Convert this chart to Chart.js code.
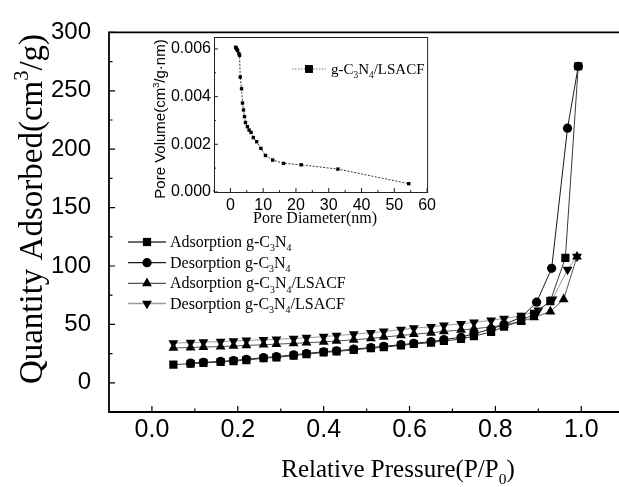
<!DOCTYPE html>
<html>
<head>
<meta charset="utf-8">
<script src="https://cdn.jsdelivr.net/npm/chart.js@4.4.1/dist/chart.umd.min.js"></script>
<style>
  html, body { margin: 0; padding: 0; background: #fff; overflow: hidden; }
  #wrap { position: relative; width: 619px; height: 487px; overflow: hidden; }
  #main { position: absolute; left: 0; top: 0; }
  #inset { position: absolute; left: 140px; top: 0; }
</style>
</head>
<body>
<div id="wrap">
  <canvas id="main" width="630" height="487"></canvas>
  <canvas id="inset" width="300" height="230"></canvas>
</div>
<script>
// isotherm data (P/P0, cm3/g)
const pAdsC = [0.05,0.09,0.12,0.16,0.19,0.22,0.26,0.29,0.33,0.36,0.40,0.43,0.47,0.51,0.54,0.58,0.61,0.65,0.68,0.72,0.75,0.79,0.82,0.86,0.89,0.928,0.963,0.993]
const qAdsC = [15.5,16.3,17.0,17.8,18.5,19.5,21.0,21.8,23.3,24.5,26.0,26.8,28.2,29.6,30.5,32.0,33.2,34.4,35.8,37.5,40.0,43.5,48.0,53.0,59.0,70.0,107,271]

const pDesC = [0.993,0.968,0.931,0.896,0.86,0.82,0.79,0.75,0.72,0.68,0.65,0.61,0.58,0.54,0.51,0.47,0.43,0.40,0.36,0.33,0.29,0.26,0.22,0.19,0.16,0.12,0.09]
const qDesC = [271,218,98,69,56,50,46,42,39,37,35.2,33.8,32.6,31.2,30.2,28.8,27.4,26.6,25.1,23.9,22.4,21.5,20.1,19.1,18.3,17.5,16.8]

const pAdsL = [0.05,0.09,0.12,0.16,0.19,0.22,0.26,0.29,0.33,0.36,0.40,0.43,0.47,0.51,0.54,0.58,0.61,0.65,0.68,0.72,0.75,0.79,0.82,0.86,0.89,0.928,0.959,0.99]
const qAdsL = [29.8,30.2,30.6,31.0,31.5,32.0,32.6,33.1,33.7,34.3,35.0,35.8,36.8,38.0,39.2,40.5,41.6,42.8,44.0,45.2,46.3,47.8,49.5,52.5,56,61,71.5,108]

const pDesL = [0.99,0.968,0.933,0.90,0.86,0.82,0.79,0.75,0.72,0.68,0.65,0.61,0.58,0.54,0.51,0.47,0.43,0.40,0.36,0.33,0.29,0.26,0.22,0.19,0.16,0.12,0.09,0.05]
const qDesL = [108,97,71.5,62,57.5,55,53.5,51.8,50.5,49.2,48.0,46.8,45.5,44.0,42.8,41.6,40.5,39.5,38.6,37.9,37.3,36.8,36.3,35.8,35.3,34.8,34.4,34.0]

// inset: pore size distribution (nm, cm3/g.nm)
const poreD = [1.6,1.8,2.0,2.2,2.6,2.8,3.0,3.4,3.7,4.0,4.3,4.6,5.2,5.7,6.3,7.0,8.0,9.3,10.7,12.9,16.2,21.6,32.8,54.4]
const poreV = [0.00607,0.00603,0.00598,0.00593,0.00580,0.00573,0.00482,0.00433,0.00373,0.00344,0.00316,0.00291,0.00274,0.00260,0.00250,0.00228,0.00211,0.00183,0.00153,0.00134,0.00120,0.00114,0.00096,0.00035]

const xTicks = [0, 0.2, 0.4, 0.6, 0.8, 1.0]
const xMinor = [0.1, 0.3, 0.5, 0.7, 0.9]
const yTicks = [0, 50, 100, 150, 200, 250, 300]
const yMinor = [25, 75, 125, 175, 225, 275]
const insetXTicks = [0, 10, 20, 30, 40, 50, 60]
const insetXMinor = [-5, 5, 15, 25, 35, 45, 55]
const insetYTicks = [0, 0.002, 0.004, 0.006]
const insetYMinor = [0.001, 0.003, 0.005]

const SANS = "'Liberation Sans', Arial, sans-serif"
const SERIF = "'Liberation Serif', 'Times New Roman', serif"

function pts(xs, ys){
    return xs.map((x, i) => ({x, y: ys[i]}))
}

// text with sub/superscript pieces: [[text, 'sub'|'sup'|undefined], ...]
function richWidth(ctx, parts, size, family){
    let w = 0
    parts.forEach(([t, mode]) => {
        ctx.font = `${mode ? size * 0.62 : size}px ${family}`
        w += ctx.measureText(t).width
    })
    return w
}

function richText(ctx, parts, x, y, size, family, align){
    let cx = align === 'center' ? x - richWidth(ctx, parts, size, family) / 2 : x
    ctx.textBaseline = 'alphabetic'
    ctx.textAlign = 'left'
    parts.forEach(([t, mode]) => {
        ctx.font = `${mode ? size * 0.62 : size}px ${family}`
        let dy = mode === 'sub' ? size * 0.28 : mode === 'sup' ? -size * 0.42 : 0
        ctx.fillText(t, cx, y + dy)
        cx += ctx.measureText(t).width
    })
}

function marker(ctx, style, x, y, r){
    ctx.beginPath()
    if(style === 'rect'){
        const s = r * Math.SQRT1_2
        ctx.rect(x - s, y - s, 2 * s, 2 * s)
    } else if(style === 'circle'){
        ctx.arc(x, y, r, 0, Math.PI * 2)
    } else if(style === 'triangle'){
        ctx.moveTo(x, y - r)
        ctx.lineTo(x + r * 0.866, y + r * 0.5)
        ctx.lineTo(x - r * 0.866, y + r * 0.5)
        ctx.closePath()
    } else {
        ctx.moveTo(x, y + r)
        ctx.lineTo(x + r * 0.866, y - r * 0.5)
        ctx.lineTo(x - r * 0.866, y - r * 0.5)
        ctx.closePath()
    }
    ctx.fill()
}

function inwardTicks(chart, values, len, axis){
    const {ctx, chartArea} = chart
    const scale = chart.scales[axis]
    ctx.beginPath()
    values.forEach(v => {
        const p = scale.getPixelForValue(v)
        if(axis === 'x'){
            ctx.moveTo(p, chartArea.bottom)
            ctx.lineTo(p, chartArea.bottom - len)
        } else {
            ctx.moveTo(chartArea.left, p)
            ctx.lineTo(chartArea.left + len, p)
        }
    })
    ctx.stroke()
}

const mainSeries = [
    {label: [['Adsorption g-C'], ['3', 'sub'], ['N'], ['4', 'sub']], p: pAdsC, q: qAdsC, style: 'rect', r: 5.8, line: '#3a3a3a'},
    {label: [['Desorption g-C'], ['3', 'sub'], ['N'], ['4', 'sub']], p: pDesC, q: qDesC, style: 'circle', r: 4.6, line: '#1a1a1a'},
    {label: [['Adsorption g-C'], ['3', 'sub'], ['N'], ['4', 'sub'], ['/LSACF']], p: pAdsL, q: qAdsL, style: 'triangle', r: 5.7, line: '#555'},
    {label: [['Desorption g-C'], ['3', 'sub'], ['N'], ['4', 'sub'], ['/LSACF']], p: pDesL, q: qDesL, style: 'triangleDown', r: 5.7, line: '#9a9a9a'},
]

const mainDecor = {
    id: 'mainDecor',
    afterDraw(chart){
        const {ctx, chartArea} = chart
        ctx.save()
        ctx.strokeStyle = '#000'
        ctx.fillStyle = '#000'
        ctx.lineWidth = 1.8
        ctx.beginPath()
        ctx.moveTo(chartArea.right, chartArea.top)
        ctx.lineTo(chartArea.left, chartArea.top)
        ctx.lineTo(chartArea.left, chartArea.bottom)
        ctx.lineTo(chartArea.right, chartArea.bottom)
        ctx.stroke()
        ctx.lineWidth = 1.2
        inwardTicks(chart, xTicks, 6, 'x')
        inwardTicks(chart, xMinor, 3.5, 'x')
        inwardTicks(chart, yTicks, 6, 'y')
        inwardTicks(chart, yMinor, 3.5, 'y')

        // axis titles
        richText(ctx, [['Relative Pressure(P/P'], ['0', 'sub'], [')']], 398, 477, 25, SERIF, 'center')
        ctx.save()
        ctx.translate(42, 209)
        ctx.rotate(-Math.PI / 2)
        richText(ctx, [['Quantity Adsorbed(cm'], ['3', 'sup'], ['/g)']], 0, 0, 33, SERIF, 'center')
        ctx.restore()

        // legend
        const rows = [242, 262.7, 283.3, 303.5]
        mainSeries.forEach((s, i) => {
            const y = rows[i]
            ctx.strokeStyle = s.line
            ctx.lineWidth = 1.3
            ctx.beginPath()
            ctx.moveTo(128, y)
            ctx.lineTo(166, y)
            ctx.stroke()
            ctx.fillStyle = '#000'
            marker(ctx, s.style, 147, y, s.r)
            richText(ctx, s.label, 170, y + 5, 16, SERIF)
        })
        ctx.restore()
    }
}

new Chart(document.getElementById('main'), {
    type: 'scatter',
    data: {
        datasets: mainSeries.map(s => ({
            data: pts(s.p, s.q),
            showLine: true,
            borderColor: s.line,
            borderWidth: 1,
            backgroundColor: '#000',
            pointBackgroundColor: '#000',
            pointBorderColor: '#000',
            pointBorderWidth: 0,
            pointStyle: s.style === 'triangleDown' ? 'triangle' : s.style,
            rotation: s.style === 'triangleDown' ? 180 : 0,
            pointRadius: s.r,
            tension: 0
        }))
    },
    options: {
        responsive: false,
        animation: false,
        layout: {padding: {top: 27, right: 5, left: 0, bottom: 0}},
        plugins: {legend: {display: false}, tooltip: {enabled: false}},
        scales: {
            x: {
                type: 'linear', min: -0.1, max: 1.1,
                afterBuildTicks: s => { s.ticks = xTicks.map(v => ({value: v})) },
                afterFit: s => { s.height = 75 },
                grid: {display: false, drawTicks: false}, border: {display: false},
                ticks: {color: '#000', font: {family: SANS, size: 25}, padding: 3, maxRotation: 0, autoSkip: false,
                    callback: v => v.toFixed(1)}
            },
            y: {
                type: 'linear', min: -25, max: 300,
                afterBuildTicks: s => { s.ticks = yTicks.map(v => ({value: v})) },
                afterFit: s => { s.width = 109 },
                grid: {display: false, drawTicks: false}, border: {display: false},
                ticks: {color: '#000', font: {family: SANS, size: 24}, padding: 18, autoSkip: false}
            }
        }
    },
    plugins: [mainDecor]
})

const insetDecor = {
    id: 'insetDecor',
    afterDraw(chart){
        const {ctx, chartArea} = chart
        ctx.save()
        ctx.strokeStyle = '#222'
        ctx.fillStyle = '#000'
        ctx.lineWidth = 1
        ctx.strokeRect(chartArea.left + 0.5, chartArea.top + 0.5, chartArea.right - chartArea.left, chartArea.bottom - chartArea.top)
        inwardTicks(chart, insetXTicks, 4, 'x')
        inwardTicks(chart, insetXMinor, 2, 'x')
        inwardTicks(chart, insetYTicks, 4, 'y')
        inwardTicks(chart, insetYMinor, 2, 'y')

        richText(ctx, [['Pore Diameter(nm)']], 175, 223, 16, SERIF, 'center')
        ctx.save()
        ctx.translate(25, 119)
        ctx.rotate(-Math.PI / 2)
        richText(ctx, [['Pore Volume(cm'], ['3', 'sup'], ['/g·nm)']], 0, 0, 15, SANS, 'center')
        ctx.restore()

        // legend
        ctx.strokeStyle = '#777'
        ctx.setLineDash([1.5, 1.5])
        ctx.beginPath()
        ctx.moveTo(152, 69)
        ctx.lineTo(186, 69)
        ctx.stroke()
        ctx.setLineDash([])
        marker(ctx, 'rect', 169, 69, 5.6)
        richText(ctx, [['g-C'], ['3', 'sub'], ['N'], ['4', 'sub'], ['/LSACF']], 191, 74, 15, SERIF)
        ctx.restore()
    }
}

new Chart(document.getElementById('inset'), {
    type: 'scatter',
    data: {
        datasets: [{
            data: pts(poreD, poreV),
            showLine: true,
            borderColor: '#333',
            borderWidth: 1,
            borderDash: [2, 1.5],
            pointStyle: 'rect',
            pointRadius: 2.4,
            pointBorderWidth: 0,
            pointBackgroundColor: '#000',
            tension: 0
        }]
    },
    options: {
        responsive: false,
        animation: false,
        layout: {padding: {top: 37, right: 8, left: 0, bottom: 0}},
        plugins: {legend: {display: false}, tooltip: {enabled: false}},
        scales: {
            x: {
                type: 'linear', min: -5, max: 60,
                afterBuildTicks: s => { s.ticks = insetXTicks.map(v => ({value: v})) },
                afterFit: s => { s.height = 38 },
                grid: {display: false, drawTicks: false}, border: {display: false},
                ticks: {color: '#000', font: {family: SANS, size: 16}, padding: 4, maxRotation: 0, autoSkip: false}
            },
            y: {
                type: 'linear', min: 0, max: 0.0065,
                afterBuildTicks: s => { s.ticks = insetYTicks.map(v => ({value: v})) },
                afterFit: s => { s.width = 74 },
                grid: {display: false, drawTicks: false}, border: {display: false},
                ticks: {color: '#000', font: {family: SANS, size: 16}, padding: 3, autoSkip: false,
                    callback: v => v.toFixed(3)}
            }
        }
    },
    plugins: [insetDecor]
})
</script>
</body>
</html>
